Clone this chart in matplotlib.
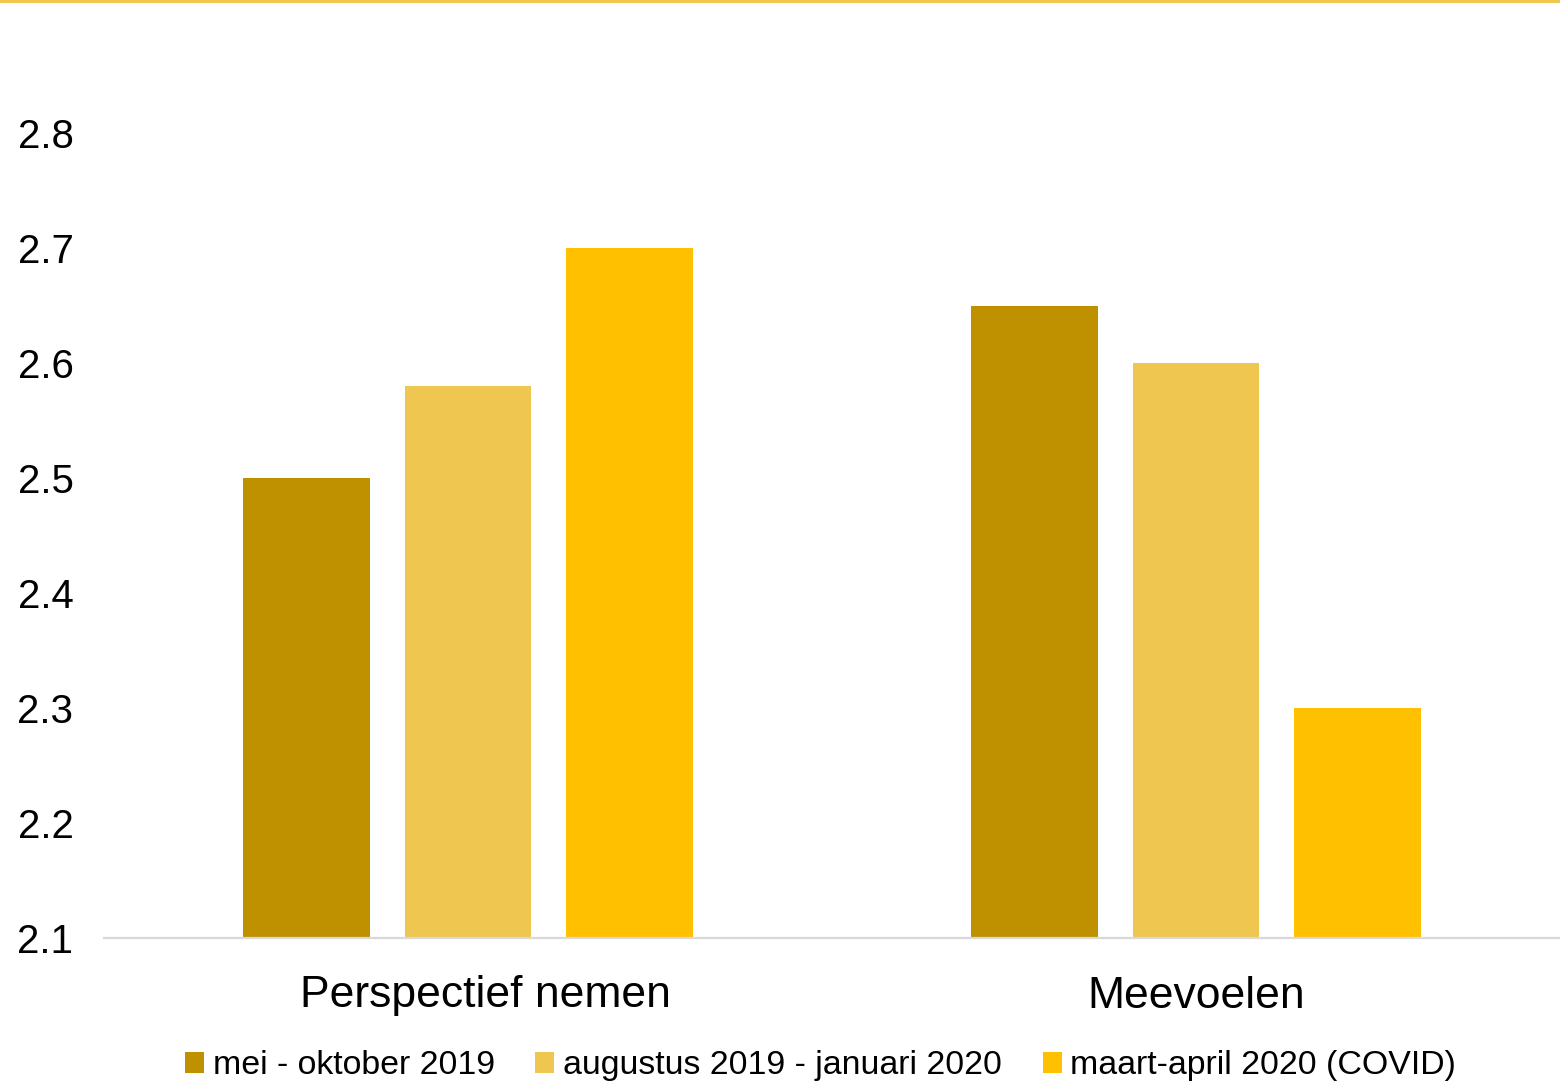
import matplotlib.pyplot as plt
import matplotlib.transforms as mtransforms
import numpy as np
from matplotlib.lines import Line2D
from matplotlib.patches import Patch

plt.rcParams['font.family'] = ['Liberation Sans', 'DejaVu Sans']

categories = ["Perspectief nemen", "Meevoelen"]
series_names = ["mei - oktober 2019", "augustus 2019 - januari 2020", "maart-april 2020 (COVID)"]
mei_okt_2019 = [2.50, 2.65]
aug_jan_2020 = [2.58, 2.60]
maart_april_2020 = [2.70, 2.30]
yticks = [2.1, 2.2, 2.3, 2.4, 2.5, 2.6, 2.7, 2.8]

colors = ["#BF9000", "#EFC750", "#FFC000"]

fig = plt.figure(figsize=(15.6, 10.82), dpi=100)
ax = fig.add_axes([104 / 1560, 1 - 938 / 1082, 1 - 104 / 1560, (938 - 133) / 1082])

x = np.arange(len(categories))
width = 0.174
step = 0.2217
for i, vals in enumerate([mei_okt_2019, aug_jan_2020, maart_april_2020]):
    ax.bar(x + (i - 1) * step, vals, width, color=colors[i], zorder=2)

ax.set_xlim(-0.5, 1.5)
ax.set_ylim(2.1, 2.8)
ax.set_yticks(yticks)
ax.set_yticklabels([f"{v:.1f}" for v in yticks], fontsize=29)
ax.set_xticks(x)
ax.set_xticklabels(categories, fontsize=32)
ax.tick_params(axis='y', length=0, pad=22)
ax.tick_params(axis='x', length=0, pad=27)

# first category label sits a bit right of its group centre
lbl = ax.get_xticklabels()[0]
lbl.set_transform(lbl.get_transform() + mtransforms.ScaledTranslation(0.17, 0, fig.dpi_scale_trans))

for side in ["top", "right", "left"]:
    ax.spines[side].set_visible(False)
ax.spines["bottom"].set_color("#D9D9D9")
ax.spines["bottom"].set_linewidth(1.6)

handles = [Patch(facecolor=c, edgecolor='none') for c in colors]
fig.legend(handles, series_names, loc='center', bbox_to_anchor=(0.526, 0.0148),
           ncol=3, frameon=False, fontsize=24.4, handlelength=0.56, handleheight=0.56,
           handletextpad=0.26, columnspacing=1.2, borderpad=0, borderaxespad=0)

# thin accent line along the top edge
fig.add_artist(Line2D([0, 1], [0.9995, 0.9995], color="#EFC750", linewidth=2.2,
                      transform=fig.transFigure))

fig.savefig("out.png", dpi=100)
